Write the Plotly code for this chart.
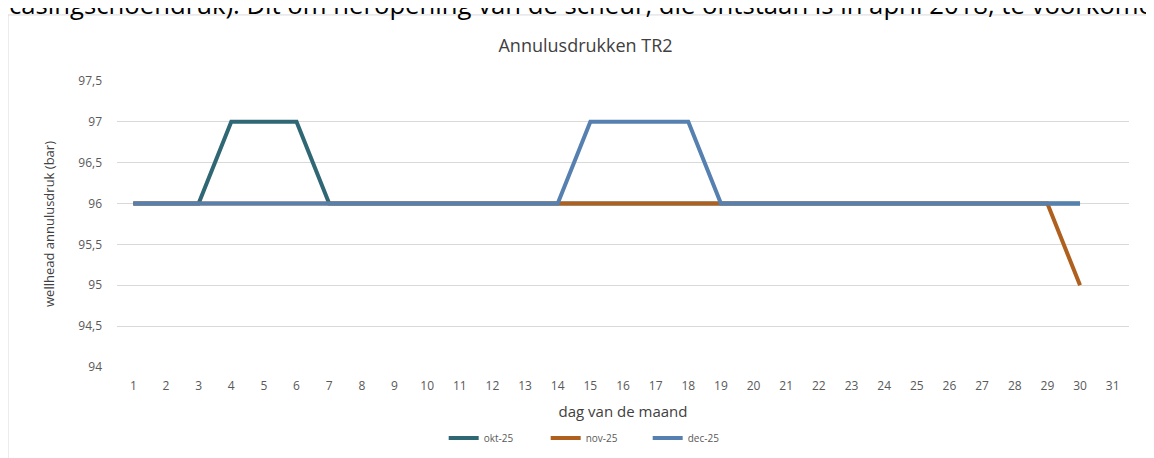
import plotly.graph_objects as go

# dag van de maand
days = list(range(1, 31))
day_labels = [str(d) for d in range(1, 32)]

# wellhead annulusdruk (bar) per maand
okt_25 = [96, 96, 96, 97, 97, 97, 96, 96, 96, 96, 96, 96, 96, 96, 96,
          96, 96, 96, 96, 96, 96, 96, 96, 96, 96, 96, 96, 96, 96, 96]
nov_25 = [96, 96, 96, 96, 96, 96, 96, 96, 96, 96, 96, 96, 96, 96, 96,
          96, 96, 96, 96, 96, 96, 96, 96, 96, 96, 96, 96, 96, 96, 95]
dec_25 = [96, 96, 96, 96, 96, 96, 96, 96, 96, 96, 96, 96, 96, 96, 97,
          97, 97, 97, 96, 96, 96, 96, 96, 96, 96, 96, 96, 96, 96, 96]

y_ticks = [94, 94.5, 95, 95.5, 96, 96.5, 97, 97.5]
y_labels = ["94", "94,5", "95", "95,5", "96", "96,5", "97", "97,5"]

grey = "#595959"

fig = go.Figure()
fig.add_trace(go.Scatter(x=days, y=okt_25, name="okt-25", mode="lines",
                         line=dict(color="#2F6775", width=4)))
fig.add_trace(go.Scatter(x=days, y=nov_25, name="nov-25", mode="lines",
                         line=dict(color="#B0601E", width=4)))
fig.add_trace(go.Scatter(x=days, y=dec_25, name="dec-25", mode="lines",
                         line=dict(color="#5680B0", width=4)))

# page body adds ~8px offset, margins compensate for it
fig.update_layout(
    width=1154, height=458,
    margin=dict(l=109, r=33, t=73, b=99, autoexpand=False),
    paper_bgcolor="white", plot_bgcolor="white",
    font=dict(family="Open Sans", color=grey),
    title=dict(text="Annulusdrukken TR2", xref="paper", x=0.463,
               xanchor="center", y=0.918, yanchor="middle",
               font=dict(family="Open Sans", size=18, color="#404040")),
    showlegend=True,
    legend=dict(orientation="h", x=0.474, xanchor="center", y=-0.248,
                yanchor="middle", font=dict(size=10, color=grey),
                entrywidth=57, entrywidthmode="pixels", tracegroupgap=0),
    shapes=[dict(type="rect", xref="paper", yref="paper",
                 x0=-0.1077, x1=1.1, y0=-0.5, y1=1.231,
                 line=dict(color="#D9D9D9", width=1))],
    annotations=[dict(
        text="casingschoendruk). Dit om heropening van de scheur, die ontstaan is in april 2018, te voorkomen",
        xref="paper", yref="paper", x=-0.109, xanchor="left",
        y=1.2, yanchor="bottom", showarrow=False,
        font=dict(family="Open Sans", size=25.7, color="black"))],
)

fig.update_xaxes(
    tickmode="array", tickvals=list(range(1, 32)), ticktext=day_labels,
    range=[0.5, 31.5], showgrid=False, zeroline=False, showline=False,
    ticks="", ticklabelstandoff=10, automargin=False,
    tickfont=dict(size=12, color=grey),
    title=dict(text="dag van de maand", font=dict(size=15, color="#404040"),
               standoff=13),
)
fig.update_yaxes(
    tickmode="array", tickvals=y_ticks, ticktext=y_labels,
    range=[94, 97.5], showgrid=True, gridcolor="#D9D9D9", gridwidth=1,
    zeroline=False, showline=False, ticks="", ticklabelstandoff=14,
    automargin=False, tickfont=dict(size=12, color=grey),
    title=dict(text="wellhead annulusdruk (bar)",
               font=dict(size=13, color="#404040"), standoff=20),
)

fig.write_html("out.html")
